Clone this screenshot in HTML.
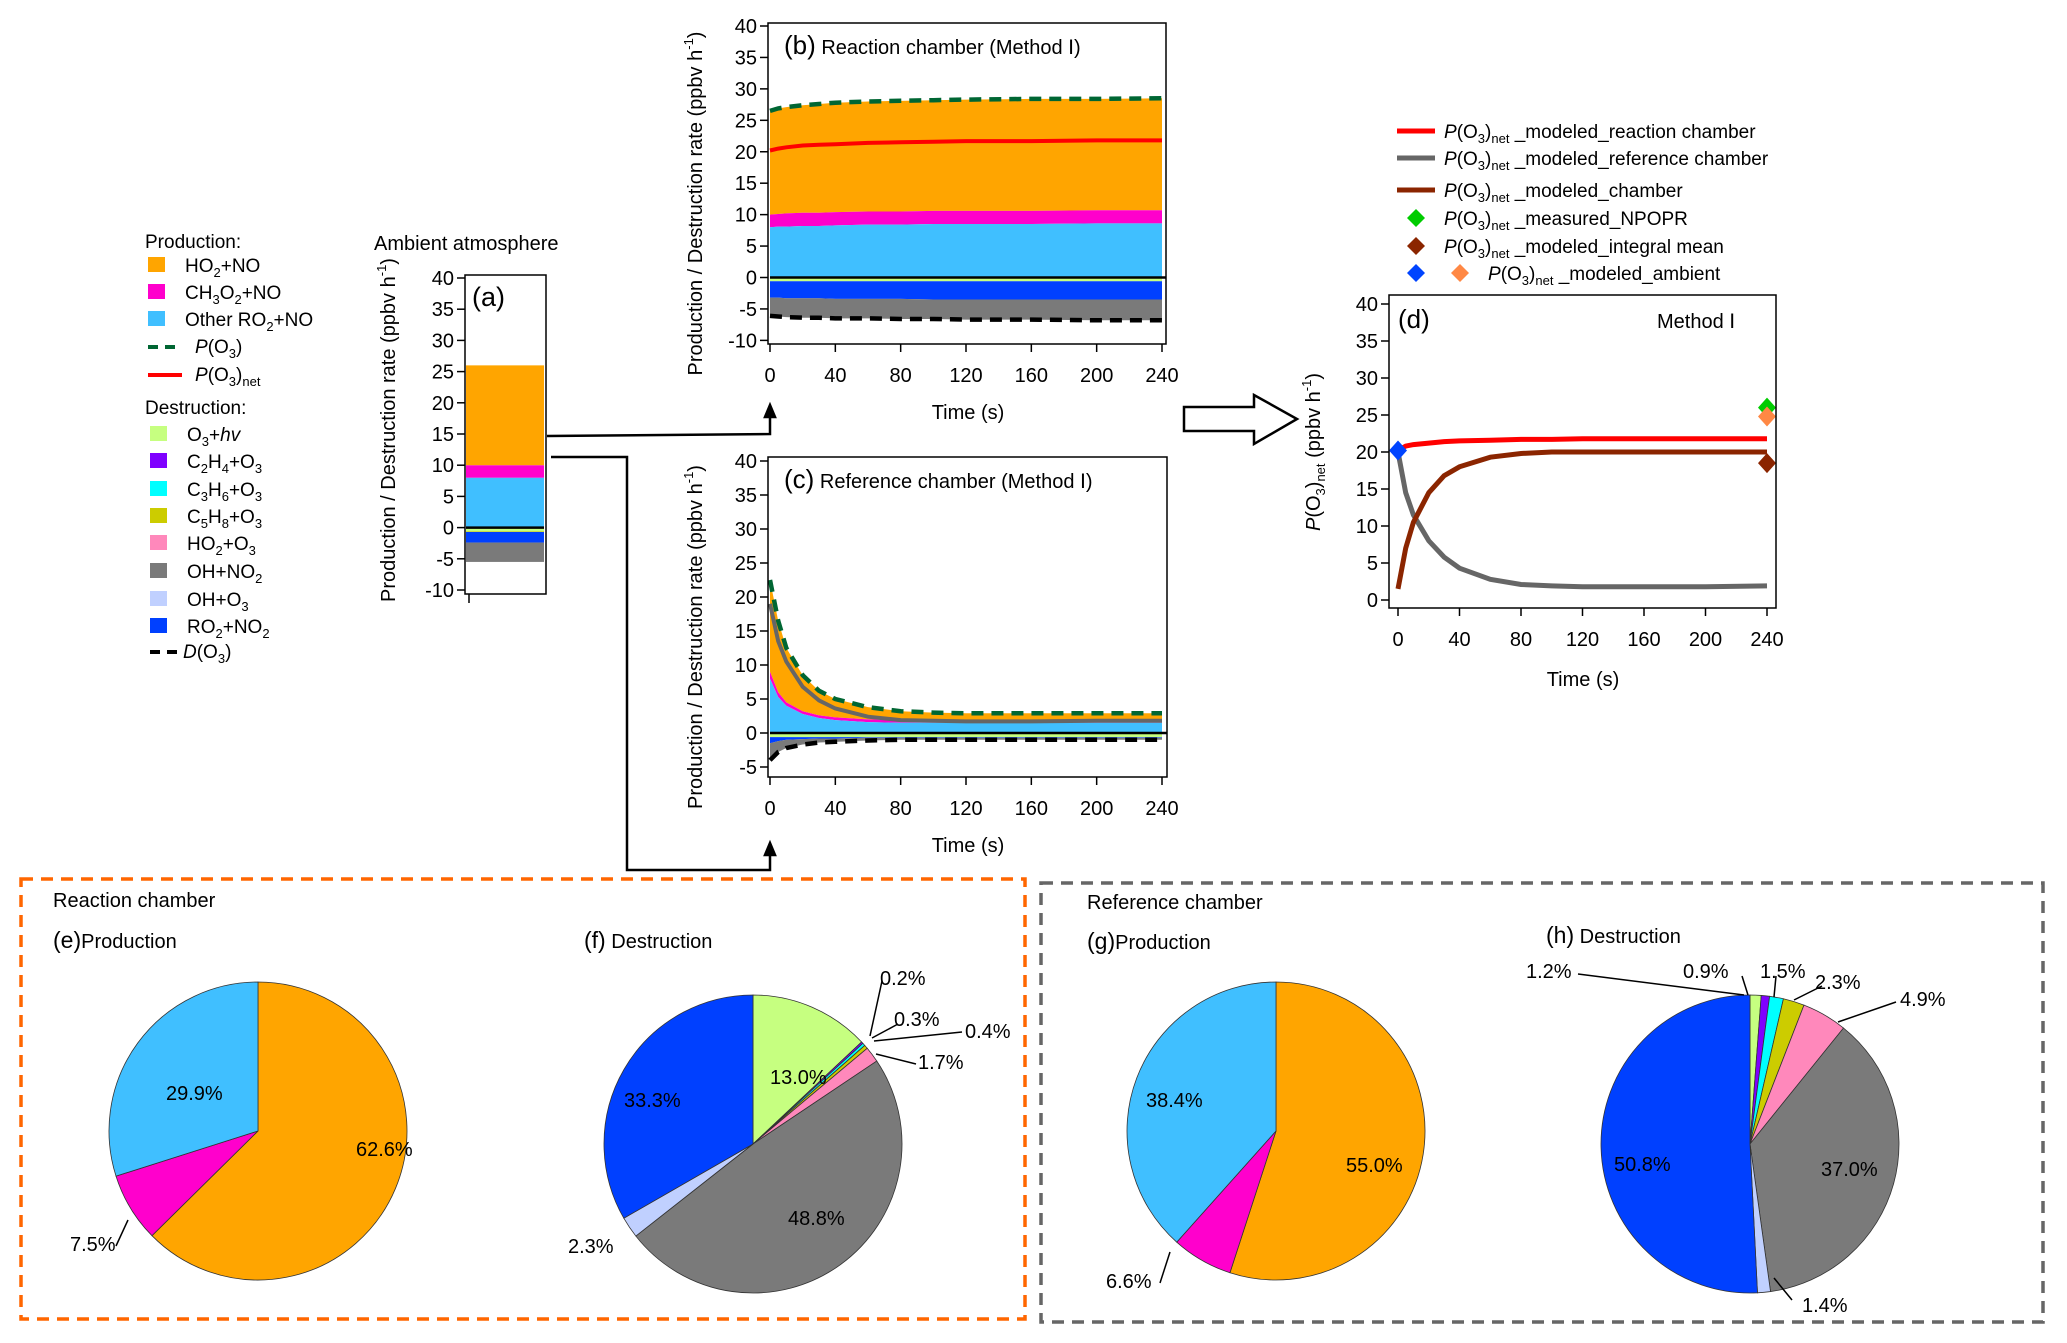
<!DOCTYPE html>
<html><head><meta charset="utf-8"><style>
html,body{margin:0;padding:0;background:#fff}
svg{display:block;font-family:"Liberation Sans",Arial,sans-serif}
</style></head><body>
<svg id="fig" width="2067" height="1343" viewBox="0 0 2067 1343" xmlns="http://www.w3.org/2000/svg">
<rect width="2067" height="1343" fill="#fff"/>
<g id="legend-left" font-size="19" fill="#000">
<text x="145" y="248">Production:</text>
<rect x="148" y="257" width="17" height="15" fill="#FFA500"/><text x="185" y="272">HO<tspan dy="5" font-size="13">2</tspan><tspan dy="-5">+NO</tspan></text>
<rect x="148" y="284" width="17" height="15" fill="#FF00CC"/><text x="185" y="299">CH<tspan dy="5" font-size="13">3</tspan><tspan dy="-5">O</tspan><tspan dy="5" font-size="13">2</tspan><tspan dy="-5">+NO</tspan></text>
<rect x="148" y="311" width="17" height="15" fill="#40BFFF"/><text x="185" y="326">Other RO<tspan dy="5" font-size="13">2</tspan><tspan dy="-5">+NO</tspan></text>
<line x1="148" y1="347" x2="182" y2="347" stroke="#006633" stroke-width="4" stroke-dasharray="10,7"/><text x="195" y="353"><tspan font-style="italic">P</tspan>(O<tspan dy="5" font-size="13">3</tspan><tspan dy="-5">)</tspan></text>
<line x1="148" y1="375" x2="182" y2="375" stroke="#FF0000" stroke-width="4"/><text x="195" y="381"><tspan font-style="italic">P</tspan>(O<tspan dy="5" font-size="13">3</tspan><tspan dy="-5">)</tspan><tspan dy="5" font-size="13">net</tspan></text>
<text x="145" y="414">Destruction:</text>
<rect x="150" y="426" width="17" height="15" fill="#C6FF80"/><text x="187" y="441">O<tspan dy="5" font-size="13">3</tspan><tspan dy="-5">+</tspan><tspan font-style="italic">hv</tspan></text>
<rect x="150" y="453" width="17" height="15" fill="#7F00FF"/><text x="187" y="468">C<tspan dy="5" font-size="13">2</tspan><tspan dy="-5">H</tspan><tspan dy="5" font-size="13">4</tspan><tspan dy="-5">+O</tspan><tspan dy="5" font-size="13">3</tspan></text>
<rect x="150" y="481" width="17" height="15" fill="#00FFFF"/><text x="187" y="496">C<tspan dy="5" font-size="13">3</tspan><tspan dy="-5">H</tspan><tspan dy="5" font-size="13">6</tspan><tspan dy="-5">+O</tspan><tspan dy="5" font-size="13">3</tspan></text>
<rect x="150" y="508" width="17" height="15" fill="#CCCC00"/><text x="187" y="523">C<tspan dy="5" font-size="13">5</tspan><tspan dy="-5">H</tspan><tspan dy="5" font-size="13">8</tspan><tspan dy="-5">+O</tspan><tspan dy="5" font-size="13">3</tspan></text>
<rect x="150" y="535" width="17" height="15" fill="#FF88BB"/><text x="187" y="550">HO<tspan dy="5" font-size="13">2</tspan><tspan dy="-5">+O</tspan><tspan dy="5" font-size="13">3</tspan></text>
<rect x="150" y="563" width="17" height="15" fill="#7A7A7A"/><text x="187" y="578">OH+NO<tspan dy="5" font-size="13">2</tspan></text>
<rect x="150" y="591" width="17" height="15" fill="#C0D0FF"/><text x="187" y="606">OH+O<tspan dy="5" font-size="13">3</tspan></text>
<rect x="150" y="618" width="17" height="15" fill="#0040FF"/><text x="187" y="633">RO<tspan dy="5" font-size="13">2</tspan><tspan dy="-5">+NO</tspan><tspan dy="5" font-size="13">2</tspan></text>
<line x1="150" y1="652" x2="183" y2="652" stroke="#000" stroke-width="4" stroke-dasharray="10,7"/><text x="183" y="658"><tspan font-style="italic">D</tspan>(O<tspan dy="5" font-size="13">3</tspan><tspan dy="-5">)</tspan></text>
</g>
<text x="374" y="250" font-size="20">Ambient atmosphere</text>
<g id="legend-right" font-size="19">
<line x1="1397" y1="131" x2="1435" y2="131" stroke="#FF0000" stroke-width="5"/><text x="1444" y="138"><tspan font-style="italic">P</tspan>(O<tspan dy="5" font-size="13">3</tspan><tspan dy="-5">)</tspan><tspan dy="5" font-size="13">net</tspan><tspan dy="-5"> _modeled_reaction chamber</tspan></text>
<line x1="1397" y1="158" x2="1435" y2="158" stroke="#666" stroke-width="5"/><text x="1444" y="165"><tspan font-style="italic">P</tspan>(O<tspan dy="5" font-size="13">3</tspan><tspan dy="-5">)</tspan><tspan dy="5" font-size="13">net</tspan><tspan dy="-5"> _modeled_reference chamber</tspan></text>
<line x1="1397" y1="190" x2="1435" y2="190" stroke="#8B2500" stroke-width="5"/><text x="1444" y="197"><tspan font-style="italic">P</tspan>(O<tspan dy="5" font-size="13">3</tspan><tspan dy="-5">)</tspan><tspan dy="5" font-size="13">net</tspan><tspan dy="-5"> _modeled_chamber</tspan></text>
<path d="M1416,209 l9,9 l-9,9 l-9,-9z" fill="#00CC00"/><text x="1444" y="225"><tspan font-style="italic">P</tspan>(O<tspan dy="5" font-size="13">3</tspan><tspan dy="-5">)</tspan><tspan dy="5" font-size="13">net</tspan><tspan dy="-5"> _measured_NPOPR</tspan></text>
<path d="M1416,237 l9,9 l-9,9 l-9,-9z" fill="#8B2500"/><text x="1444" y="253"><tspan font-style="italic">P</tspan>(O<tspan dy="5" font-size="13">3</tspan><tspan dy="-5">)</tspan><tspan dy="5" font-size="13">net</tspan><tspan dy="-5"> _modeled_integral mean</tspan></text>
<path d="M1416,264 l9,9 l-9,9 l-9,-9z" fill="#0044FF"/><path d="M1460,264 l9,9 l-9,9 l-9,-9z" fill="#FF8844"/><text x="1488" y="280"><tspan font-style="italic">P</tspan>(O<tspan dy="5" font-size="13">3</tspan><tspan dy="-5">)</tspan><tspan dy="5" font-size="13">net</tspan><tspan dy="-5"> _modeled_ambient</tspan></text>
</g>
<g stroke="#000" stroke-width="2.5" fill="none">
<polyline points="547,436 770,434 770,414"/>
<path d="M770,405 l-5,12 h10z" fill="#000"/>
<polyline points="551,457 627,457 627,870 770,870 770,852"/>
<path d="M770,843 l-5,12 h10z" fill="#000"/>
<path d="M1184,407 h70 v-12 l43,24 l-43,25 v-13 h-70z" stroke-width="2.5" fill="#fff"/>
</g>
<rect x="21" y="879" width="1004" height="440" fill="none" stroke="#FF6600" stroke-width="3.5" stroke-dasharray="12,8"/>
<rect x="1041" y="883" width="1002" height="439" fill="none" stroke="#666" stroke-width="3.5" stroke-dasharray="12,8"/>
<g font-size="20">
<text x="53" y="907">Reaction chamber</text>
<text x="53" y="948"><tspan font-size="23">(e)</tspan>Production</text>
<text x="584" y="948"><tspan font-size="23">(f)</tspan> Destruction</text>
<text x="1087" y="909">Reference chamber</text>
<text x="1087" y="949"><tspan font-size="23">(g)</tspan>Production</text>
<text x="1546" y="943"><tspan font-size="23">(h)</tspan> Destruction</text>
</g>
<g id="plots"></g>
</svg>
<script>
const times=[0,5,10,20,30,40,60,80,100,120,160,200,240];
const ambientStack=[8,2,16];
const ambientNeg=[0.6,0.1,1.7,3.1];
const bP=[26.5,26.9,27.1,27.4,27.6,27.8,28,28.1,28.2,28.3,28.4,28.4,28.5];
const bNet=[20.2,20.5,20.7,21,21.1,21.2,21.4,21.5,21.6,21.7,21.7,21.8,21.8];
const bMag=[10,10.1,10.2,10.3,10.3,10.4,10.5,10.5,10.6,10.6,10.6,10.7,10.7];
const bBlue=[8,8.1,8.1,8.2,8.2,8.3,8.4,8.4,8.5,8.5,8.5,8.6,8.6];
const bRO2=[-3.2,-3.2,-3.3,-3.3,-3.3,-3.4,-3.4,-3.4,-3.5,-3.5,-3.5,-3.5,-3.5];
const bD=[-6.1,-6.2,-6.3,-6.4,-6.4,-6.5,-6.5,-6.6,-6.6,-6.7,-6.7,-6.8,-6.8];
const cP=[22.5,16.5,12.5,8.5,6.2,5,3.8,3.2,3,2.9,2.9,2.9,2.9];
const cNet=[19,13.5,10.5,6.8,4.8,3.6,2.4,1.9,1.8,1.7,1.7,1.8,1.8];
const cMag=[9,6,4.5,3.2,2.6,2.3,2,1.9,1.8,1.8,1.8,1.8,1.8];
const cBlue=[8,5.3,4,2.8,2.2,1.9,1.6,1.5,1.5,1.5,1.5,1.5,1.5];
const cRO2=[-1.5,-1.2,-1,-0.9,-0.8,-0.8,-0.7,-0.7,-0.7,-0.7,-0.7,-0.7,-0.7];
const cD=[-4,-2.8,-2.2,-1.7,-1.4,-1.3,-1.1,-1,-1,-1,-1,-1,-1];
const dRed=[20.2,20.8,21,21.2,21.4,21.5,21.6,21.7,21.7,21.8,21.8,21.8,21.8];
const dGray=[20,14.5,11.5,8,5.8,4.3,2.8,2.1,1.9,1.8,1.8,1.8,1.9];
const dBrown=[1.5,7,10.5,14.5,16.8,18,19.3,19.8,20,20,20,20,20];
const dMarkers=[[0,20.2,"#0044FF"],[240,26,"#00CC00"],[240,24.8,"#FF8844"],[240,18.5,"#8B2500"]];
const xTicks=[0,40,80,120,160,200,240];
const pieE=[62.6,7.5,29.9];
const pieF=[13.0,0.2,0.3,0.4,1.7,48.8,2.3,33.3];
const pieG=[55.0,6.6,38.4];
const pieH=[1.2,0.9,1.5,2.3,4.9,37.0,1.4,50.8];
const prodColors=["#FFA500","#FF00CC","#40BFFF"];
const destColors=["#C6FF80","#7F00FF","#00FFFF","#CCCC00","#FF88BB","#7A7A7A","#C0D0FF","#0040FF"];

const NS="http://www.w3.org/2000/svg";
const root=document.getElementById('plots');
function mk(tag,attrs,parent){const e=document.createElementNS(NS,tag);for(const k in attrs)e.setAttribute(k,attrs[k]);(parent||root).appendChild(e);return e;}
function line(xs,ys,xf,yf){return xs.map((t,i)=>xf(t).toFixed(1)+","+yf(ys[i]).toFixed(1)).join(" ");}
function band(xs,top,bot,xf,yf){let p=xs.map((t,i)=>xf(t)+","+yf(top[i]));for(let i=xs.length-1;i>=0;i--)p.push(xf(xs[i])+","+yf(bot[i]));return p.join(" ");}

function axes(box,yf,xf,yTicks,xt,name){
  const fr=mk('rect',{x:box[0],y:box[1],width:box[2]-box[0],height:box[3]-box[1],fill:'none',stroke:'#000','stroke-width':1.5});
  
  
  yTicks.forEach(v=>{
    const tk=mk('line',{x1:box[0]-8,x2:box[0],y1:yf(v),y2:yf(v),stroke:'#000','stroke-width':1.5});
    
    
    const t=mk('text',{x:box[0]-11,y:yf(v)+7,'text-anchor':'end','font-size':20});
    t.textContent=v;
    
    
  });
  if(xt){xt.forEach(v=>{
    const tk=mk('line',{x1:xf(v),x2:xf(v),y1:box[3],y2:box[3]+8,stroke:'#000','stroke-width':1.5});
    
    
    const t=mk('text',{x:xf(v),y:box[3]+38,'text-anchor':'middle','font-size':20});
    t.textContent=v;
    
    
  });}
}
function ylabel(x,y,html,name){
  const t=mk('text',{x:0,y:0,transform:`translate(${x},${y}) rotate(-90)`,'text-anchor':'middle','font-size':20});
  t.innerHTML=html;
  
  
}
function text(x,y,s,size,name,anchor){
  const t=mk('text',{x:x,y:y,'font-size':size,'text-anchor':anchor||'start'});
  t.innerHTML=s;
  
  
  return t;
}
const YLAB='Production / Destruction rate (ppbv h<tspan dy="-9" font-size="13">-1</tspan><tspan dy="9">)</tspan>';

const ya=v=>527.6-v*6.24;
(function(){
  let base=0;
  const cols=["#40BFFF","#FF00CC","#FFA500"];
  ambientStack.forEach((v,i)=>{
    const r=mk('rect',{x:466,width:78,y:ya(base+v),height:ya(base)-ya(base+v),fill:cols[i]});
    
    
    base+=v;});
  let nb=0;const nc=["#C6FF80","#CCCC00","#0040FF","#7A7A7A"];
  ambientNeg.forEach((v,i)=>{
    const r=mk('rect',{x:466,width:78,y:ya(nb),height:ya(nb-v)-ya(nb),fill:nc[i]});
    
    
    nb-=v;});
  const z=mk('line',{x1:466,x2:544,y1:ya(0),y2:ya(0),stroke:'#000','stroke-width':2.5});
  
  
  axes([465,275,546,594],ya,null,[40,35,30,25,20,15,10,5,0,-5,-10],null,'panel-a');
  const tk=mk('line',{x1:469,x2:469,y1:594,y2:603,stroke:'#000','stroke-width':1.5});
  
  
  text(472,306,'(a)',27,'panel-a-label');
  ylabel(395,430,YLAB,'panel-a-y-title');
})();

function tsPanel(box,yf,P,Net,Mag,Blue,RO2,D,ticks,name,title,netColor){
  const xf=t=>770+t*392/240;
  const zero=times.map(()=>0), green=times.map(()=>-0.6);
  const bands=[[P,Mag,'#FFA500'],[Mag,Blue,'#FF00CC'],[Blue,zero,'#40BFFF'],[zero,green,'#C6FF80'],[green,RO2,'#0040FF'],[RO2,D,'#7A7A7A']];
  bands.forEach(b=>{
    const p=mk('polygon',{points:band(times,b[0],b[1],xf,yf),fill:b[2]});
    
    
  });
  const z=mk('line',{x1:xf(0),x2:box[2],y1:yf(0),y2:yf(0),stroke:'#000','stroke-width':2.5});
  
  
  const l1=mk('polyline',{points:line(times,Net,xf,yf),fill:'none',stroke:netColor,'stroke-width':4});
  
  
  const l2=mk('polyline',{points:line(times,P,xf,yf),fill:'none',stroke:'#006633','stroke-width':4.5,'stroke-dasharray':'12,8'});
  
  
  const l3=mk('polyline',{points:line(times,D,xf,yf),fill:'none',stroke:'#000','stroke-width':4.5,'stroke-dasharray':'12,8'});
  
  
  axes(box,yf,xf,ticks,xTicks,name);
  text(box[0]+16,box[1]+31,title,20,name+'-title');
  ylabel(702,(box[1]+box[3])/2+20,YLAB,name+'-y-title');
  text(968,box[3]+75,'Time (s)',20,name+'-x-title','middle');
}
const yb=v=>277.5-v*6.2875;
tsPanel([768,23,1166,344],yb,bP,bNet,bMag,bBlue,bRO2,bD,[40,35,30,25,20,15,10,5,0,-5,-10],'panel-b','<tspan font-size="26">(b)</tspan>  Reaction chamber (Method Ⅰ)','#FF0000');
const yc=v=>733-v*6.8;
tsPanel([768,457,1167,777],yc,cP,cNet,cMag,cBlue,cRO2,cD,[40,35,30,25,20,15,10,5,0,-5],'panel-c','<tspan font-size="26">(c)</tspan> Reference chamber (Method Ⅰ)','#666');

(function(){
  const xd=t=>1398+t*369/240, yd=v=>600-v*7.4;
  [[dGray,'#666'],[dBrown,'#8B2500'],[dRed,'#FF0000']].forEach(s=>{
    const l=mk('polyline',{points:line(times,s[0],xd,yd),fill:'none',stroke:s[1],'stroke-width':5});
    
    
  });
  dMarkers.forEach(m=>{
    const x=xd(m[0]),y=yd(m[1]);
    const p=mk('path',{d:`M${x},${y-10} l9,10 l-9,10 l-9,-10z`,fill:m[2]});
    
    
  });
  axes([1389,295,1776,608],yd,xd,[40,35,30,25,20,15,10,5,0],xTicks,'panel-d');
  text(1398,328,'(d)',26,'panel-d-label');
  text(1657,328,'Method Ⅰ',20,'panel-d-method');
  ylabel(1320,452,'<tspan font-style="italic">P</tspan>(O<tspan dy="5" font-size="13">3</tspan><tspan dy="-5">)</tspan><tspan dy="5" font-size="13">net</tspan><tspan dy="-5"> (ppbv h</tspan><tspan dy="-9" font-size="13">-1</tspan><tspan dy="9">)</tspan>','panel-d-y-title');
  text(1583,686,'Time (s)',20,'panel-d-x-title','middle');
})();

function pie(cx,cy,r,vals,cols,name){
  const tot=vals.reduce((a,b)=>a+b,0);let a0=-Math.PI/2;
  vals.forEach((v,i)=>{
    const a1=a0+v/tot*2*Math.PI;
    const x0=cx+r*Math.cos(a0),y0=cy+r*Math.sin(a0),x1=cx+r*Math.cos(a1),y1=cy+r*Math.sin(a1);
    const p=mk('path',{d:`M${cx},${cy} L${x0},${y0} A${r},${r} 0 ${a1-a0>Math.PI?1:0} 1 ${x1},${y1}Z`,fill:cols[i],stroke:'#333','stroke-width':0.8});
    
    
    a0=a1;
  });
}
pie(258,1131,149,pieE,prodColors,'pie-e');
pie(753,1144,149,pieF,destColors,'pie-f');
pie(1276,1131,149,pieG,prodColors,'pie-g');
pie(1750,1144,149,pieH,destColors,'pie-h');
const pieLabels=[[166,1100,'29.9%'],[356,1156,'62.6%'],[70,1251,'7.5%'],[770,1084,'13.0%'],[624,1107,'33.3%'],[788,1225,'48.8%'],[568,1253,'2.3%'],[880,985,'0.2%'],[894,1026,'0.3%'],[965,1038,'0.4%'],[918,1069,'1.7%'],[1146,1107,'38.4%'],[1346,1172,'55.0%'],[1106,1288,'6.6%'],[1614,1171,'50.8%'],[1821,1176,'37.0%'],[1802,1312,'1.4%'],[1526,978,'1.2%'],[1683,978,'0.9%'],[1760,978,'1.5%'],[1815,989,'2.3%'],[1900,1006,'4.9%']];
pieLabels.forEach(l=>{text(l[0],l[1],l[2],20,'pie-percent-label');});
const leaders=[[116,1246,128,1220],[882,981,870,1036],[898,1024,872,1038],[962,1032,874,1041],[916,1064,876,1054],[1160,1283,1170,1252],[1578,974,1744,995],[1742,976,1748,995],[1776,976,1774,997],[1822,986,1794,1000],[1896,1002,1838,1022],[1792,1300,1774,1278]];
leaders.forEach(L=>{
  const l=mk('line',{x1:L[0],y1:L[1],x2:L[2],y2:L[3],stroke:'#000','stroke-width':1.5});
  
  
});
</script>
</body></html>
